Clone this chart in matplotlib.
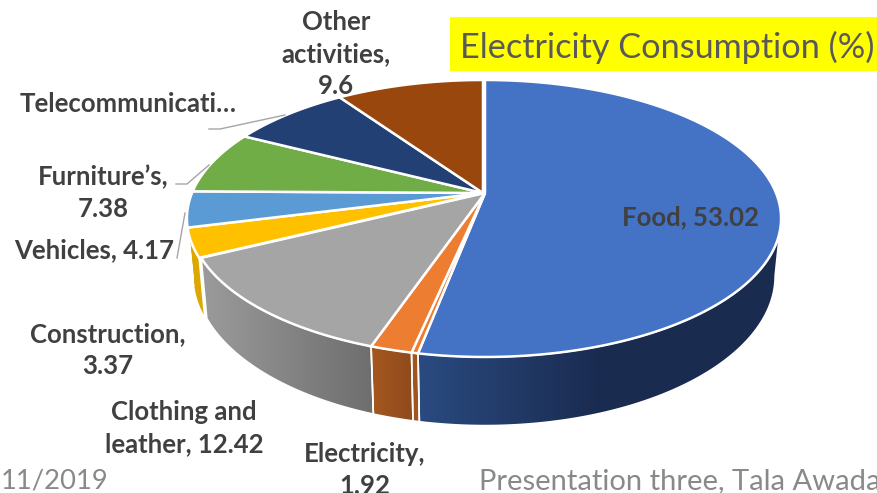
import numpy as np
import matplotlib
matplotlib.use("Agg")
import matplotlib.pyplot as plt
from matplotlib.colors import LinearSegmentedColormap
from matplotlib.patches import Polygon, Rectangle

plt.rcParams['font.family'] = ['Lato', 'DejaVu Sans']

# Slices, clockwise from 12 o'clock
sliceNames = ["Food", "", "Electricity", "Clothing and leather", "Construction",
              "Vehicles", "Furniture's", "Telecommunications", "Other activities"]
sliceValues = [53.02, 0.30, 1.92, 12.42, 3.37, 4.17, 7.38, 7.82, 9.60]
topColors = ["#4472c4", "#ed7d31", "#ed7d31", "#a5a5a5", "#ffc000",
             "#5b9bd5", "#70ad47", "#234075", "#9a470d"]
# Side wall gradient, left to right
sideColors = [["#2a4a80", "#1a2b50", "#1a2b50"], ["#a0561f", "#a0561f"], ["#a5581f", "#8f4a1c"],
              ["#9b9b9b", "#6e6e6e"], ["#dba800", "#dba800"], ["#4a85ba", "#4a85ba"],
              ["#5f9a3a", "#5f9a3a"], ["#1c3460", "#1c3460"], ["#803a0a", "#803a0a"]]
# Small sideways pull of a slice from the pie, pixels
slicePull = [2, 2, 2, 2, 0, 0, 0, 0, 0]

# Label text and block centre, as placed in the chart
labelTexts = ["Food, 53.02", "Electricity,\n1.92", "Clothing and\nleather, 12.42",
              "Construction,\n3.37", "Vehicles, 4.17", "Furniture\u2019s,\n7.38",
              "Telecommunicati\u2026", "Other\nactivities,\n9.6"]
labelX = [690, 365, 184, 108, 94, 103, 128, 336]
labelY = [217, 470, 428, 350, 250, 193, 104, 54]

titleText = "Electricity Consumption (%)"
footerLeft = "11/2019"
footerRight = "Presentation three, Tala Awada"

# Pie projection, in pixels of the picture
CX, CY = 483, 193
RX, RY, PERSP = 291, 133.8, 0.184
SIDE_DROP, SIDE_SX, SIDE_SY = 55.5, 0.98, 1.08
SIDE_START, SIDE_END = 100.6, 259.4


def project(angleDeg, radius=1.0, bottom=False):
    # Clockwise angle from the top of the pie to picture pixels
    t = np.radians(angleDeg)
    u, v = radius * np.sin(t), radius * np.cos(t)
    w = 1 + PERSP * v
    x, y = RX * u / w, -RY * v / w
    if bottom:
        return CX + x * SIDE_SX, CY + SIDE_DROP + y * SIDE_SY
    return CX + x, CY + y


def rim(a, b, bottom=False):
    n = max(int(abs(b - a)) * 2, 3)
    x, y = project(np.linspace(a, b, n), bottom=bottom)
    return np.column_stack([x, y])


def drawSide(ax, a, b, colors, pull):
    # Gradient side wall between two rim angles, clipped to its outline
    pts = np.vstack([rim(a, b), rim(b, a, bottom=True)]) + [pull, 0]
    poly = Polygon(pts, closed=True, fc="none", ec="none")
    ax.add_patch(poly)
    cm = LinearSegmentedColormap.from_list("side", colors)
    x0, x1, y0, y1 = pts[:, 0].min(), pts[:, 0].max(), pts[:, 1].min(), pts[:, 1].max()
    im = ax.imshow(np.linspace(0, 1, 128).reshape(1, -1), cmap=cm, aspect="auto",
                   extent=(x0, x1, y1, y0), zorder=1, interpolation="bilinear")
    im.set_clip_path(poly)
    ax.add_patch(Polygon(pts, closed=True, fc="none", ec="white", lw=1.2, zorder=2))


fig = plt.figure(figsize=(8.77, 4.93), dpi=100)
ax = fig.add_axes([0, 0, 1, 1])

edges = np.cumsum([0] + sliceValues) * 3.6

# Side walls first, the top faces cover what is behind them
for i in range(len(sliceValues)):
    a, b = max(edges[i], SIDE_START), min(edges[i + 1], SIDE_END)
    if b > a:
        drawSide(ax, a, b, sideColors[i], slicePull[i])

for i in range(len(sliceValues)):
    pts = np.vstack([[CX, CY], rim(edges[i], edges[i + 1])]) + [slicePull[i], 0]
    ax.add_patch(Polygon(pts, closed=True, fc=topColors[i], ec="white", lw=1.8,
                         joinstyle="miter", zorder=3))

# Leader lines
leaderLines = [([209, 220, 285], [129, 129, 115]),
               ([176, 187, 209], [184, 184, 165]),
               ([177, 185], [258, 213])]
for lx, ly in leaderLines:
    ax.plot(lx, ly, color="#a6a6a6", lw=1, zorder=4)

for txt, x, y in zip(labelTexts, labelX, labelY):
    ax.text(x, y, txt, ha="center", va="center", fontsize=18.5, fontweight="bold",
            color="#404040", linespacing=1.38, zorder=5)

ax.add_patch(Rectangle((450, 17), 427, 54, fc="#ffff00", ec="none", zorder=5))
ax.text(460, 47, titleText, ha="left", va="center", fontsize=24.7, color="#595959", zorder=6)

ax.text(1, 481, footerLeft, ha="left", va="center", fontsize=19.7, color="#898989", zorder=6)
ax.text(479, 481, footerRight, ha="left", va="center", fontsize=21, color="#898989", zorder=6)

ax.set_xlim(0, 877)
ax.set_ylim(493, 0)
ax.axis("off")
fig.savefig("out.png", dpi=100)
